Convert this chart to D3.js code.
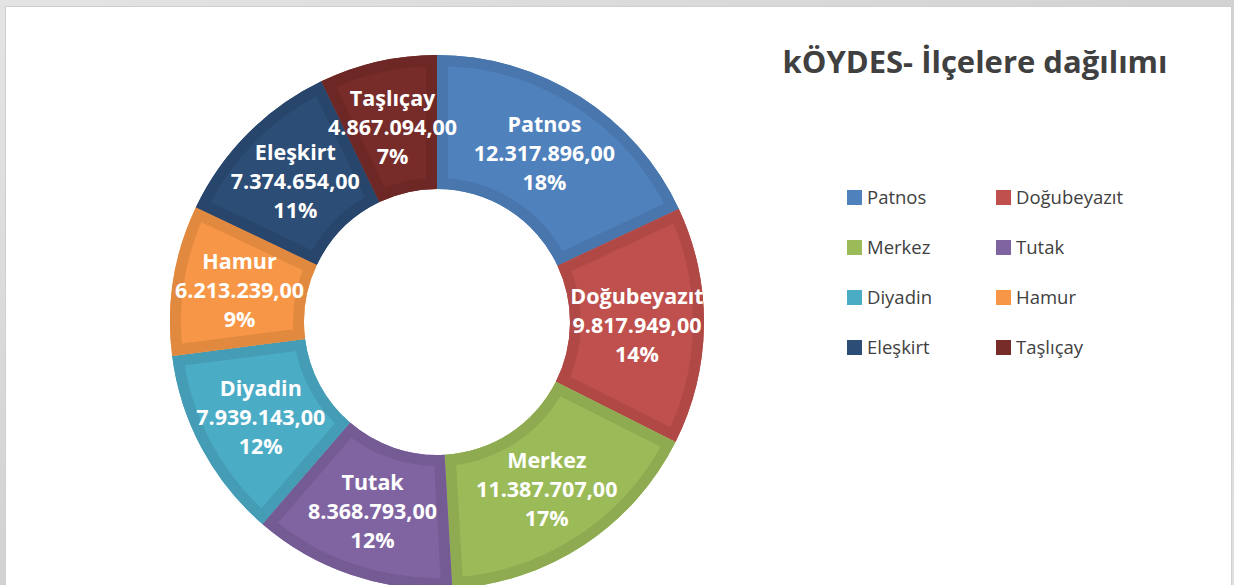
<!DOCTYPE html>
<html>
<head>
<meta charset="utf-8">
<script src="https://cdn.jsdelivr.net/npm/d3@7"></script>
<style>
  body { margin: 0; background: #d9d9d9; }
  svg { display: block; }
</style>
</head>
<body>
<svg></svg>
<script>
var districts = ['Patnos', 'Doğubeyazıt', 'Merkez', 'Tutak', 'Diyadin', 'Hamur', 'Eleşkirt', 'Taşlıçay'];
var amounts = [12317896, 9817949, 11387707, 8368793, 7939143, 6213239, 7374654, 4867094];
var colors = ['#4f81bd', '#c0504d', '#9bbb59', '#8064a2', '#4bacc6', '#f79646', '#2c4d75', '#772c2a'];
var title = 'kÖYDES- İlçelere dağılımı';

var width = 1234,
  height = 585,
  cx = 437, cy = 322,
  outer = 267, inner = 133,
  bevel = 11;

var svg = d3.select('svg')
  .attr('width', width)
  .attr('height', height);

// marble-ish backdrop + white panel
var defs = svg.append('defs');
var grad = defs.append('linearGradient').attr('id', 'bg')
  .attr('x1', 0).attr('y1', 0).attr('x2', 1).attr('y2', 1);
grad.append('stop').attr('offset', 0).attr('stop-color', '#e4e4e4');
grad.append('stop').attr('offset', 0.5).attr('stop-color', '#d2d2d2');
grad.append('stop').attr('offset', 1).attr('stop-color', '#e0e0e0');
svg.append('rect').attr('width', width).attr('height', height).attr('fill', 'url(#bg)');
svg.append('rect')
  .attr('x', 5.5).attr('y', 6.5)
  .attr('width', 1226).attr('height', 620)
  .attr('fill', 'white')
  .attr('stroke', '#cfcfcf');

var data = districts.map((d, i) => ({name: d, value: amounts[i], color: colors[i]}));
var total = d3.sum(amounts);

var pie = d3.pie().sort(null).value(d => d.value);
var arc = d3.arc().innerRadius(inner).outerRadius(outer);
var arcs = pie(data);

var g = svg.append('g').attr('transform', 'translate(' + [cx, cy] + ')');

arcs.forEach((a, i) => {
  defs.append('clipPath').attr('id', 'clip' + i)
    .append('path').attr('d', arc(a));
});

var slice = g.selectAll('.slice').data(arcs)
  .join('g').attr('class', 'slice');

slice.append('path')
  .attr('d', arc)
  .attr('fill', d => d.data.color);

// bevel band on the inside of each slice edge
slice.append('path')
  .attr('d', arc)
  .attr('fill', 'none')
  .attr('stroke', d => d3.color(d.data.color).darker(0.25))
  .attr('stroke-width', bevel * 2)
  .attr('stroke-linejoin', 'round')
  .attr('clip-path', (d, i) => 'url(#clip' + i + ')');

var fmt = d3.formatLocale({decimal: ',', thousands: '.', grouping: [3]}).format(',.2f');

var label = slice.append('text')
  .attr('transform', d => 'translate(' + arc.centroid(d) + ')')
  .attr('text-anchor', 'middle')
  .attr('fill', 'white')
  .style('font-family', '"Open Sans", sans-serif')
  .style('font-weight', 'bold')
  .style('font-size', '21.5px');

label.selectAll('tspan')
  .data(d => [d.data.name, fmt(d.data.value), Math.round(d.data.value / total * 100) + '%'])
  .join('tspan')
  .attr('x', 0)
  .attr('y', (d, i) => (i - 1) * 29 + 8)
  .text(d => d);

// title
svg.append('text')
  .attr('x', 975).attr('y', 73)
  .attr('text-anchor', 'middle')
  .attr('fill', '#404040')
  .style('font-family', '"Open Sans", sans-serif')
  .style('font-weight', 'bold')
  .style('font-size', '31px')
  .text(title);

// legend, two columns
var legend = svg.append('g').selectAll('g').data(data)
  .join('g')
  .attr('transform', (d, i) => 'translate(' + [847 + (i % 2) * 149, 190 + Math.floor(i / 2) * 50] + ')');

legend.append('rect')
  .attr('width', 15).attr('height', 15)
  .attr('fill', d => d.color);

legend.append('text')
  .attr('x', 20).attr('y', 14)
  .attr('fill', '#404040')
  .style('font-family', '"Open Sans", sans-serif')
  .style('font-size', '18.5px')
  .text(d => d.name);
</script>
</body>
</html>
